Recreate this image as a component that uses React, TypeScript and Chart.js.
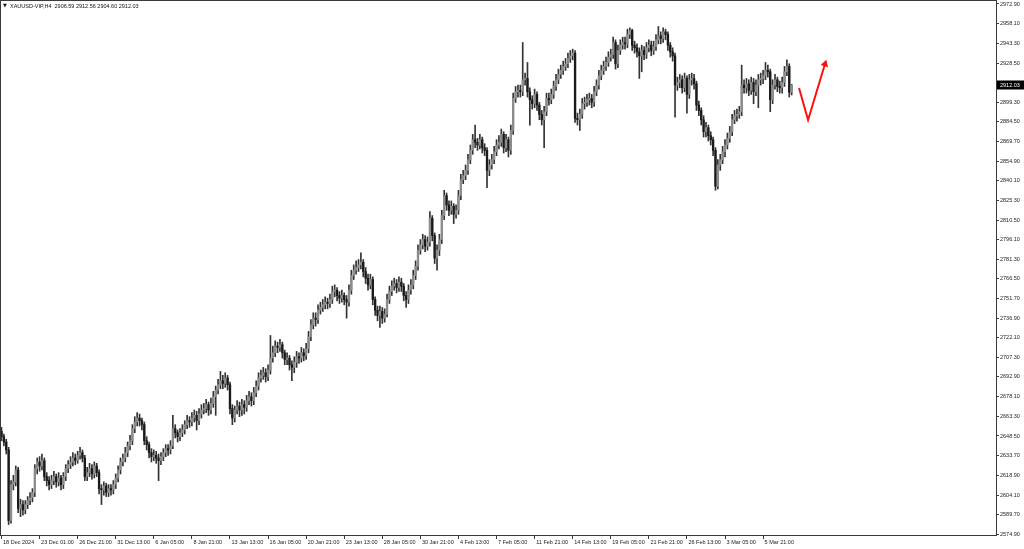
import { useEffect, useRef } from "react";
import { Chart, registerables } from "chart.js";

Chart.register(...registerables);

const symbolName = "XAUUSD-VIP,H4";
const firstOpen = 2652;

const closes = [
  2648, 2644, 2638, 2585, 2612, 2614, 2623, 2594, 2597, 2593,
  2597, 2600, 2602, 2606, 2624, 2629, 2626, 2630, 2618, 2615,
  2612, 2615, 2618, 2614, 2617, 2612, 2618, 2624, 2627, 2629,
  2632, 2630, 2634, 2636, 2632, 2618, 2621, 2624, 2620, 2626,
  2621, 2609, 2608, 2611, 2606, 2609, 2608, 2612, 2617, 2623,
  2629, 2632, 2636, 2641, 2645, 2654, 2659, 2662, 2660, 2657,
  2645, 2642, 2636, 2633, 2634, 2632, 2630, 2633, 2636, 2639,
  2638, 2641, 2654, 2651, 2648, 2651, 2653, 2657, 2660, 2659,
  2662, 2664, 2660, 2665, 2668, 2669, 2672, 2668, 2673, 2678,
  2683, 2687, 2690, 2688, 2692, 2687, 2669, 2662, 2668, 2671,
  2668, 2672, 2670, 2675, 2678, 2675, 2681, 2686, 2692, 2694,
  2696, 2693, 2698, 2707, 2711, 2716, 2715, 2717, 2711, 2706,
  2707, 2702, 2700, 2704, 2708, 2707, 2711, 2709, 2714, 2723,
  2732, 2737, 2736, 2743, 2745, 2747, 2749, 2748, 2751, 2757,
  2758, 2754, 2752, 2754, 2751, 2749, 2758, 2769, 2773, 2775,
  2777, 2779, 2772, 2767, 2762, 2766, 2751, 2743, 2739, 2742,
  2737, 2740, 2751, 2757, 2761, 2763, 2760, 2764, 2761, 2754,
  2751, 2758, 2762, 2769, 2776, 2788, 2792, 2796, 2791, 2794,
  2812, 2799, 2782, 2788, 2796, 2814, 2829, 2822, 2818, 2821,
  2815, 2818, 2829, 2841, 2844, 2848, 2856, 2863, 2871, 2869,
  2867, 2871, 2865, 2863, 2848, 2852, 2856, 2862, 2867, 2869,
  2875, 2865, 2871, 2863, 2878, 2902, 2907, 2908, 2907, 2916,
  2917, 2907, 2901, 2898, 2905, 2897, 2890, 2886, 2892, 2902,
  2901, 2905, 2911, 2916, 2920, 2923, 2926, 2928, 2932, 2934,
  2936, 2887, 2886, 2890, 2898, 2899, 2901, 2902, 2899, 2907,
  2912, 2919, 2923, 2926, 2929, 2933, 2935, 2944, 2928, 2938,
  2942, 2944, 2943, 2950, 2953, 2942, 2940, 2937, 2934, 2938,
  2935, 2940, 2942, 2938, 2941, 2946, 2949, 2947, 2952, 2950,
  2942, 2937, 2934, 2912, 2914, 2916, 2910, 2917, 2905, 2916,
  2917, 2913, 2897, 2893, 2886, 2877, 2880, 2874, 2871, 2863,
  2836, 2852, 2856, 2862, 2867, 2872, 2877, 2886, 2889, 2890,
  2892, 2912, 2910, 2913, 2908, 2914, 2907, 2912, 2916, 2917,
  2919, 2923, 2922, 2901, 2912, 2916, 2911, 2910, 2914, 2922, 2926, 2906.59, 2912.03,
];

const highs = [
  2655, 2650, 2646, 2640, 2615, 2619, 2626, 2625, 2601, 2600,
  2600, 2603, 2606, 2609, 2627, 2632, 2633, 2635, 2632, 2621,
  2618, 2619, 2622, 2620, 2621, 2619, 2621, 2627, 2630, 2633,
  2636, 2635, 2637, 2640, 2638, 2634, 2625, 2628, 2627, 2629,
  2628, 2623, 2612, 2614, 2613, 2612, 2612, 2615, 2620, 2626,
  2632, 2635, 2640, 2644, 2649, 2657, 2663, 2666, 2665, 2662,
  2659, 2648, 2644, 2639, 2638, 2637, 2635, 2636, 2639, 2642,
  2642, 2645, 2664, 2657, 2653, 2654, 2657, 2660, 2664, 2663,
  2666, 2668, 2667, 2669, 2672, 2673, 2676, 2674, 2677, 2682,
  2686, 2691, 2697, 2694, 2696, 2694, 2689, 2672, 2671, 2675,
  2674, 2676, 2675, 2679, 2682, 2681, 2685, 2690, 2696, 2698,
  2700, 2699, 2702, 2724, 2716, 2720, 2719, 2721, 2719, 2713,
  2711, 2709, 2705, 2708, 2712, 2711, 2715, 2714, 2718, 2727,
  2736, 2741, 2741, 2747, 2749, 2751, 2753, 2752, 2755, 2761,
  2762, 2760, 2757, 2758, 2756, 2754, 2762, 2773, 2777, 2780,
  2781, 2786, 2781, 2775, 2770, 2770, 2768, 2753, 2746, 2746,
  2745, 2744, 2755, 2761, 2765, 2767, 2766, 2768, 2767, 2763,
  2757, 2762, 2766, 2773, 2780, 2792, 2796, 2800, 2799, 2798,
  2817, 2814, 2801, 2792, 2800, 2818, 2833, 2831, 2825, 2825,
  2823, 2822, 2833, 2845, 2848, 2852, 2860, 2867, 2875, 2882,
  2872, 2875, 2873, 2868, 2865, 2856, 2860, 2866, 2871, 2874,
  2879, 2877, 2875, 2873, 2882, 2906, 2911, 2912, 2912, 2944,
  2921, 2929, 2910, 2904, 2909, 2907, 2899, 2893, 2896, 2906,
  2906, 2909, 2915, 2920, 2924, 2927, 2930, 2932, 2936, 2938,
  2939, 2938, 2891, 2894, 2902, 2903, 2905, 2906, 2905, 2911,
  2916, 2923, 2927, 2930, 2933, 2937, 2939, 2948, 2946, 2942,
  2946, 2948, 2948, 2954, 2955, 2954, 2945, 2943, 2940, 2942,
  2941, 2944, 2946, 2945, 2945, 2950, 2956, 2952, 2955, 2954,
  2952, 2944, 2940, 2936, 2918, 2920, 2919, 2921, 2919, 2920,
  2921, 2920, 2915, 2900, 2895, 2889, 2884, 2882, 2877, 2873,
  2865, 2856, 2860, 2866, 2871, 2876, 2881, 2890, 2893, 2894,
  2896, 2927, 2916, 2917, 2916, 2918, 2917, 2916, 2920, 2921,
  2923, 2929, 2927, 2924, 2916, 2920, 2918, 2915, 2918, 2926, 2931, 2928, 2912.56,
];

const lows = [
  2645, 2641, 2635, 2582, 2583, 2608, 2611, 2591, 2588, 2589,
  2590, 2594, 2597, 2599, 2603, 2620, 2622, 2623, 2615, 2611,
  2608, 2609, 2612, 2610, 2611, 2608, 2609, 2615, 2621, 2624,
  2626, 2627, 2628, 2631, 2629, 2615, 2615, 2618, 2616, 2617,
  2618, 2605, 2597, 2604, 2603, 2603, 2604, 2605, 2609, 2614,
  2620, 2626, 2629, 2633, 2638, 2642, 2651, 2656, 2656, 2653,
  2642, 2638, 2632, 2629, 2630, 2628, 2615, 2627, 2630, 2633,
  2634, 2635, 2639, 2647, 2644, 2645, 2648, 2650, 2654, 2655,
  2656, 2659, 2653, 2657, 2662, 2665, 2666, 2664, 2665, 2670,
  2664, 2680, 2684, 2684, 2685, 2683, 2665, 2657, 2659, 2665,
  2663, 2664, 2665, 2667, 2672, 2671, 2672, 2678, 2683, 2689,
  2691, 2689, 2690, 2695, 2704, 2708, 2711, 2712, 2707, 2702,
  2702, 2698, 2690, 2696, 2700, 2703, 2704, 2705, 2706, 2711,
  2720, 2729, 2731, 2733, 2740, 2742, 2744, 2744, 2745, 2748,
  2753, 2750, 2748, 2749, 2747, 2737, 2746, 2755, 2766, 2770,
  2772, 2774, 2768, 2763, 2758, 2759, 2747, 2739, 2735, 2730,
  2733, 2734, 2738, 2748, 2754, 2758, 2756, 2757, 2757, 2750,
  2745, 2748, 2755, 2759, 2766, 2773, 2785, 2789, 2787, 2788,
  2791, 2795, 2778, 2773, 2784, 2793, 2811, 2818, 2814, 2815,
  2808, 2812, 2815, 2826, 2838, 2841, 2845, 2853, 2860, 2865,
  2863, 2864, 2861, 2859, 2835, 2844, 2849, 2853, 2859, 2864,
  2866, 2861, 2862, 2858, 2860, 2875, 2899, 2903, 2903, 2904,
  2912, 2903, 2882, 2894, 2895, 2893, 2886, 2882, 2865, 2889,
  2897, 2898, 2902, 2908, 2913, 2917, 2920, 2923, 2925, 2929,
  2931, 2884, 2882, 2878, 2887, 2894, 2896, 2897, 2895, 2896,
  2904, 2909, 2916, 2920, 2923, 2926, 2930, 2932, 2924, 2925,
  2935, 2939, 2939, 2940, 2947, 2938, 2936, 2933, 2917, 2922,
  2931, 2932, 2937, 2934, 2935, 2938, 2943, 2943, 2944, 2946,
  2938, 2933, 2930, 2888, 2908, 2910, 2906, 2907, 2891, 2902,
  2912, 2909, 2893, 2889, 2882, 2873, 2873, 2870, 2867, 2859,
  2833, 2834, 2848, 2853, 2858, 2864, 2869, 2874, 2883, 2885,
  2887, 2889, 2906, 2906, 2904, 2905, 2898, 2904, 2895, 2912,
  2913, 2916, 2918, 2892, 2898, 2909, 2907, 2906, 2906, 2911, 2919, 2903, 2904.6,
];

const opens = [firstOpen, ...closes.slice(0, -1)];

const dateTickBars = [0, 16, 32, 48, 64, 80, 96, 112, 128, 144, 160, 176, 192, 208, 224, 240, 256, 272, 288, 304, 320];
const dateLabels = [
  "18 Dec 2024", "23 Dec 01:00", "26 Dec 21:00", "31 Dec 13:00", "6 Jan 05:00",
  "8 Jan 21:00", "13 Jan 13:00", "16 Jan 05:00", "20 Jan 21:00", "23 Jan 13:00",
  "28 Jan 05:00", "30 Jan 21:00", "4 Feb 13:00", "7 Feb 05:00", "11 Feb 21:00",
  "14 Feb 13:00", "19 Feb 05:00", "21 Feb 21:00", "26 Feb 13:00", "3 Mar 05:00",
  "5 Mar 21:00",
];

const priceTicks = [
  2972.9, 2958.1, 2943.3, 2928.5, 2899.3, 2884.5, 2869.7, 2854.9, 2840.1, 2825.3,
  2810.5, 2796.1, 2781.3, 2766.5, 2751.7, 2736.9, 2722.1, 2707.3, 2692.9, 2678.1,
  2663.3, 2648.5, 2633.7, 2618.9, 2604.1, 2589.7, 2574.9,
];

const arrowBars = [335.1, 338.9, 346.0];
const arrowPrices = [2909.8, 2885.8, 2927.8];

const FONT = "'Liberation Sans', Arial, sans-serif";

const zeroPad = (s: any) => {
  s.paddingLeft = 0;
  s.paddingRight = 0;
  s.paddingTop = 0;
  s.paddingBottom = 0;
};

export default function App() {
  const ref = useRef<HTMLCanvasElement | null>(null);

  useEffect(() => {
    const canvas = ref.current;
    if (!canvas) return;
    const last = closes.length - 1;

    const framePlugin = {
      id: "frame",
      afterDraw(chart: any) {
        const { ctx, chartArea } = chart;
        ctx.save();
        ctx.strokeStyle = "#3a3a3a";
        ctx.lineWidth = 1;
        ctx.strokeRect(
          Math.round(chartArea.left) - 0.5,
          Math.round(chartArea.top) - 0.5,
          Math.round(chartArea.right - chartArea.left) + 1,
          Math.round(chartArea.bottom - chartArea.top) + 1
        );
        ctx.fillStyle = "#111";
        ctx.textBaseline = "middle";
        ctx.textAlign = "left";
        const ohlc = [opens[last], highs[last], lows[last], closes[last]]
          .map((v) => v.toFixed(2))
          .join(" ");
        ctx.font = `5px 'DejaVu Sans', sans-serif`;
        ctx.fillText("\u25BC", 3, 6);
        ctx.font = `5.5px ${FONT}`;
        ctx.fillText(`${symbolName}  ${ohlc}`, 10, 6);
        const y = chart.scales.y.getPixelForValue(closes[last]);
        ctx.fillStyle = "#000";
        ctx.fillRect(997, Math.round(y) - 4.5, 27, 9);
        ctx.fillStyle = "#fff";
        ctx.fillText(closes[last].toFixed(2), 1000, Math.round(y));
        ctx.restore();
      },
    };

    const chart = new Chart(canvas, {
      type: "bar",
      data: {
        datasets: [
          {
            type: "line" as any,
            data: arrowBars.map((x, i) => ({ x, y: arrowPrices[i] })),
            borderColor: "#ff1010",
            borderWidth: 2,
            pointRadius: [0, 0, 4.5],
            pointStyle: "triangle",
            pointRotation: [0, 0, 17],
            pointBackgroundColor: "#ff1010",
            pointBorderColor: "#ff1010",
            pointBorderWidth: 0,
            order: -1,
          } as any,
          {
            data: closes.map((c, i) => ({ x: i, y: [opens[i], c] })),
            backgroundColor: closes.map((c, i) => (c >= opens[i] ? "#8c8c8c" : "#1a1a1a")),
            barThickness: 1.7,
            minBarLength: 1,
            grouped: false,
            order: 0,
          } as any,
          {
            data: closes.map((_, i) => ({ x: i, y: [lows[i], highs[i]] })),
            backgroundColor: "#333",
            barThickness: 1,
            grouped: false,
            order: 1,
          } as any,
        ],
      },
      options: {
        animation: false,
        responsive: false,
        maintainAspectRatio: false,
        layout: { autoPadding: false, padding: { left: 1, top: 1, right: 0, bottom: 0 } },
        plugins: { legend: { display: false }, tooltip: { enabled: false } },
        scales: {
          x: {
            type: "linear",
            min: -0.21,
            max: 417.86,
            offset: false,
            afterBuildTicks: (s: any) => {
              s.ticks = dateTickBars.map((v) => ({ value: v }));
            },
            afterFit: (s: any) => {
              s.height = 14;
              zeroPad(s);
            },
            ticks: {
              autoSkip: false,
              maxRotation: 0,
              minRotation: 0,
              align: "start",
              padding: 0,
              color: "#222",
              font: { size: 5.5, family: FONT },
              callback: (v: any) => " " + dateLabels[dateTickBars.indexOf(v)],
            },
            grid: {
              offset: false,
              drawOnChartArea: false,
              drawTicks: true,
              tickLength: 4,
              color: "#3a3a3a",
            },
            border: { display: false },
          } as any,
          y: {
            type: "linear",
            position: "right",
            min: 2574.15,
            max: 2975.15,
            afterBuildTicks: (s: any) => {
              s.ticks = priceTicks.map((v) => ({ value: v }));
            },
            afterFit: (s: any) => {
              s.width = 28;
              zeroPad(s);
            },
            ticks: {
              padding: 1,
              color: "#222",
              font: { size: 5.5, family: FONT },
              callback: (v: any) => Number(v).toFixed(2),
            },
            grid: {
              drawOnChartArea: false,
              drawTicks: true,
              tickLength: 3,
              color: "#3a3a3a",
            },
            border: { display: false },
          } as any,
        },
      },
      plugins: [framePlugin],
    });

    return () => chart.destroy();
  }, []);

  return (
    <div style={{ position: "fixed", left: 0, top: 0, width: 1024, height: 549, background: "#fff" }}>
      <canvas ref={ref} width={1024} height={549} style={{ display: "block", width: 1024, height: 549 }} />
    </div>
  );
}
